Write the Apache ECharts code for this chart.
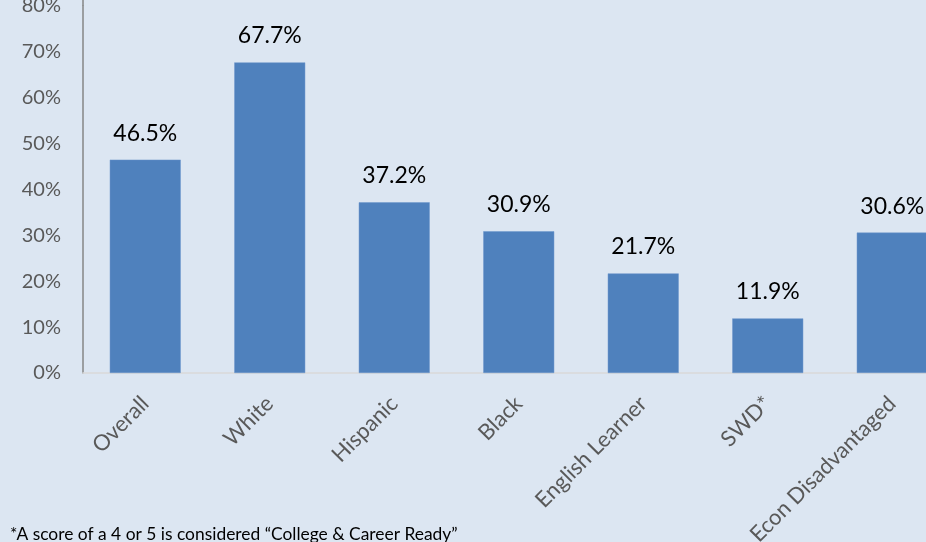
<!DOCTYPE html>
<html><head><meta charset="utf-8">
<script src="https://cdn.jsdelivr.net/npm/echarts@6/dist/echarts.min.js"></script>
<style>html,body{margin:0;padding:0;background:#dce6f2;overflow:hidden;}#c{width:955px;height:542px;}</style>
</head><body><div id="c"></div>
<script>
var categories = ['Overall','White','Hispanic','Black','English Learner','SWD*','Econ Disadvantaged'];
var values = [46.5, 67.7, 37.2, 30.9, 21.7, 11.9, 30.6];
var yTicks = [0,10,20,30,40,50,60,70,80];
var footnote = '*A score of a 4 or 5 is considered \u201cCollege & Career Ready\u201d';
var FONT = 'Lato';
var chart = echarts.init(document.getElementById('c'));
chart.setOption({
  backgroundColor: '#dce6f2',
  animation: false,
  grid: {left: 83, top: 6, width: 871.5, height: 367, containLabel: false, outerBoundsMode: 'none'},
  xAxis: {
    type: 'category', data: categories,
    axisLine: {show: true, lineStyle: {color: '#d9d9d9', width: 1.5}},
    axisTick: {show: false},
    axisLabel: {rotate: 45, interval: 0, color: '#595959', fontFamily: FONT, fontSize: 22, margin: 27}
  },
  yAxis: {
    type: 'value', min: 0, max: 80, interval: 10,
    axisLine: {show: true, lineStyle: {color: '#868686', width: 1.5}},
    axisTick: {show: false},
    splitLine: {show: false},
    axisLabel: {color: '#595959', fontFamily: FONT, fontSize: 20, margin: 22,
      formatter: function(v){ return yTicks.indexOf(v) >= 0 ? v + '%' : ''; }}
  },
  series: [{
    type: 'bar', data: values, barWidth: '57%',
    itemStyle: {color: '#4f81bd', borderColor: '#6d97cc', borderWidth: 0.5},
    label: {show: true, position: 'top', distance: 15, color: '#000', fontFamily: FONT, fontSize: 23,
      formatter: function(p){ return p.value.toFixed(1) + '%'; }}
  }],
  graphic: [
    {type: 'line', shape: {x1: 83, y1: 0, x2: 83, y2: 6}, style: {stroke: '#868686', lineWidth: 1.5}},
    {type: 'text', left: 10, top: 526,
      style: {text: footnote, fill: '#000', font: '17.4px ' + FONT}}
  ]
});
</script></body></html>
